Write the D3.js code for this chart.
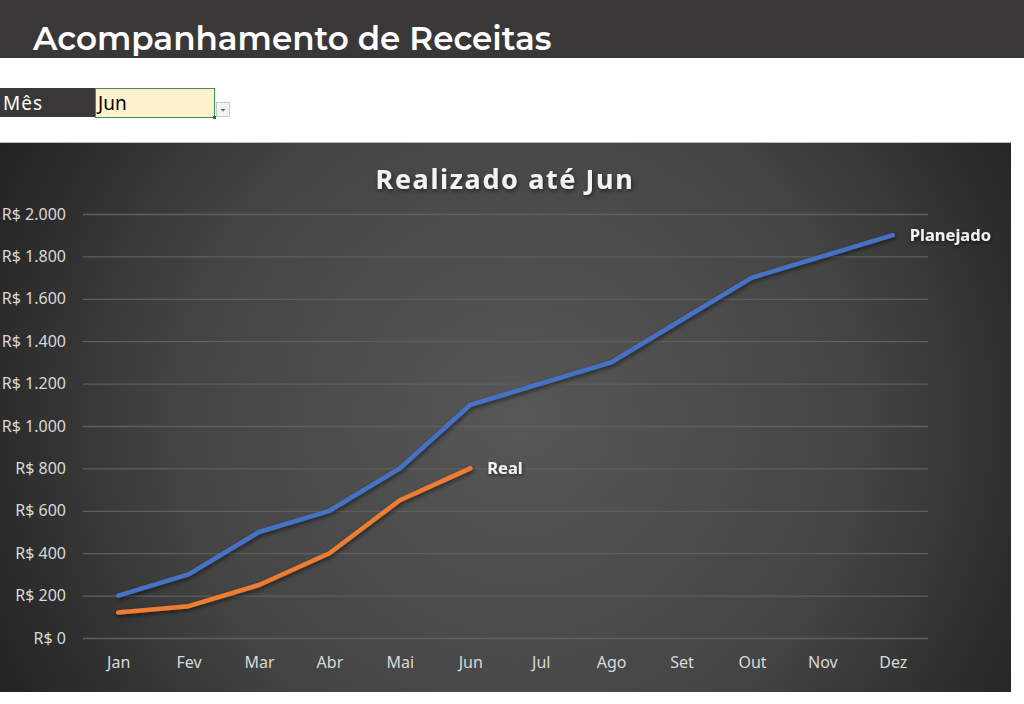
<!DOCTYPE html>
<html>
<head>
<meta charset="utf-8">
<script src="https://cdn.jsdelivr.net/npm/d3@7"></script>
<style>
  body { margin: 0; background: #fff; }
  svg { display: block; }
</style>
</head>
<body>
<svg id="sheet" width="1024" height="704"></svg>
<script>
"use strict";

const months = ["Jan", "Fev", "Mar", "Abr", "Mai", "Jun", "Jul", "Ago", "Set", "Out", "Nov", "Dez"];
const planejado = [200, 300, 500, 600, 800, 1100, 1200, 1300, 1500, 1700, 1800, 1900];
const real = [120, 150, 250, 400, 650, 800];
const yTicks = [0, 200, 400, 600, 800, 1000, 1200, 1400, 1600, 1800, 2000];
const selectedMonth = "Jun";

const width = 1024;
const chart = { x: 0, y: 142, w: 1011, h: 550 };
const margin = { left: 83, right: 1024 - 928, top: 214, bottom: 704 - 638 };
const font = "'Noto Sans', 'Open Sans', sans-serif";

const svg = d3.select("#sheet");
const defs = svg.append("defs");

// background gradient of the chart area
const grad = defs.append("radialGradient")
    .attr("id", "bg")
    .attr("gradientUnits", "userSpaceOnUse")
    .attr("cx", 520).attr("cy", 420).attr("r", 620);
grad.append("stop").attr("offset", "0%").attr("stop-color", "#575757");
grad.append("stop").attr("offset", "55%").attr("stop-color", "#444444");
grad.append("stop").attr("offset", "100%").attr("stop-color", "#1e1e1e");

const shadow = defs.append("filter").attr("id", "shadow")
    .attr("x", "-10%").attr("y", "-10%").attr("width", "120%").attr("height", "120%");
shadow.append("feDropShadow")
    .attr("dx", 1).attr("dy", 2).attr("stdDeviation", 2)
    .attr("flood-color", "#000").attr("flood-opacity", 0.55);

// header band
svg.append("rect").attr("x", 0).attr("y", 0).attr("width", width).attr("height", 58)
    .attr("fill", "#3a3738");
svg.append("text")
    .attr("x", 33).attr("y", 50)
    .attr("fill", "#ffffff")
    .attr("font-family", "Montserrat, 'Open Sans', sans-serif")
    .attr("font-weight", 600)
    .attr("font-size", 32.6)
    .text("Acompanhamento de Receitas");

// month selector row
svg.append("rect").attr("x", 0).attr("y", 88).attr("width", 95).attr("height", 29)
    .attr("fill", "#3a3738");
svg.append("text").attr("x", 3).attr("y", 110)
    .attr("fill", "#ffffff").attr("font-family", font)
    .attr("font-size", 19).attr("textLength", 39).text("Mês");
svg.append("rect").attr("x", 95.5).attr("y", 88.5).attr("width", 119).attr("height", 29)
    .attr("fill", "#fff2cc").attr("stroke", "#3f8f5a").attr("stroke-width", 1);
svg.append("rect").attr("x", 213).attr("y", 116).attr("width", 3).attr("height", 3)
    .attr("fill", "#217346");
svg.append("text").attr("x", 98).attr("y", 110)
    .attr("fill", "#000").attr("font-family", font)
    .attr("font-size", 19).text(selectedMonth);
svg.append("rect").attr("x", 216.5).attr("y", 102.5).attr("width", 13).attr("height", 14)
    .attr("fill", "#f4f4f4").attr("stroke", "#c8c8c8");
svg.append("path").attr("d", "M220.5,109 L225.5,109 L223,111.5 Z").attr("fill", "#666");

// chart area
svg.append("rect")
    .attr("x", chart.x).attr("y", chart.y).attr("width", chart.w).attr("height", chart.h)
    .attr("fill", "url(#bg)");
svg.append("line").attr("x1", 0).attr("x2", chart.w).attr("y1", chart.y + 0.5).attr("y2", chart.y + 0.5)
    .attr("stroke", "#bdbdbd");

svg.append("text")
    .attr("x", 505).attr("y", 189)
    .attr("text-anchor", "middle")
    .attr("fill", "#f2f2f2")
    .attr("font-family", font)
    .attr("font-weight", 700)
    .attr("font-size", 27)
    .attr("letter-spacing", 1.6)
    .attr("filter", "url(#shadow)")
    .text("Realizado até " + selectedMonth);

const x = d3.scalePoint()
    .domain(months)
    .range([margin.left, width - margin.right])
    .padding(0.5);
const y = d3.scaleLinear()
    .domain([0, 2000])
    .range([704 - margin.bottom, margin.top]);

const fmt = v => "R$ " + d3.format(",")(v).replace(/,/g, ".");

const yAxis = svg.append("g")
    .attr("transform", `translate(${margin.left},0)`)
    .call(d3.axisLeft(y).tickValues(yTicks).tickFormat(fmt)
        .tickSize(-(width - margin.left - margin.right)).tickPadding(17));
yAxis.select(".domain").remove();
yAxis.selectAll(".tick line").attr("stroke", "#5f5f5f").attr("stroke-width", 1.3);
yAxis.selectAll(".tick text")
    .attr("fill", "#d9d9d9")
    .attr("font-family", font)
    .attr("font-size", 16);

const xAxis = svg.append("g")
    .attr("transform", `translate(0,${704 - margin.bottom})`)
    .call(d3.axisBottom(x).tickSize(0).tickPadding(19));
xAxis.select(".domain").remove();
xAxis.selectAll(".tick text")
    .attr("fill", "#d9d9d9")
    .attr("font-family", font)
    .attr("font-size", 16);

const line = d3.line()
    .x((d, i) => x(months[i]))
    .y(d => y(d));

const series = [
    { name: "Planejado", values: planejado, color: "#4472c4" },
    { name: "Real", values: real, color: "#ed7d31" }
];

series.forEach(s => {
    svg.append("path")
        .datum(s.values)
        .attr("d", line)
        .attr("fill", "none")
        .attr("stroke", s.color)
        .attr("stroke-width", 4.5)
        .attr("stroke-linejoin", "round")
        .attr("stroke-linecap", "round")
        .attr("filter", "url(#shadow)");
    const last = s.values.length - 1;
    svg.append("text")
        .attr("x", x(months[last]) + 17)
        .attr("y", y(s.values[last]) + 6)
        .attr("fill", "#f2f2f2")
        .attr("font-family", font)
        .attr("font-weight", 700)
        .attr("font-size", 16.5)
        .attr("filter", "url(#shadow)")
        .text(s.name);
});
</script>
</body>
</html>
